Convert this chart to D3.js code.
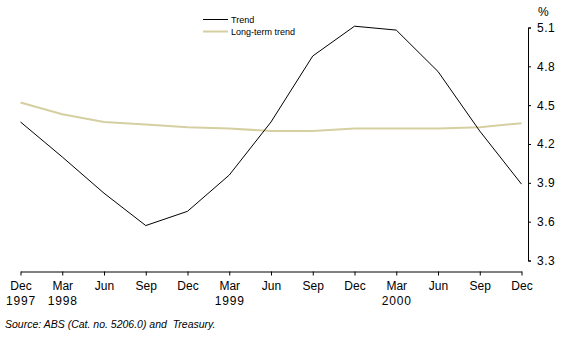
<!DOCTYPE html>
<html>
<head>
<meta charset="utf-8">
<script src="https://cdn.jsdelivr.net/npm/d3@7"></script>
<style>
  html, body { margin: 0; padding: 0; background: #fff; }
  svg { display: block; }
  text { font-family: "Liberation Sans", Arial, sans-serif; fill: #000; }
</style>
</head>
<body>
<svg id="chart" width="572" height="347"></svg>
<script>
const quarters = ["Dec","Mar","Jun","Sep","Dec","Mar","Jun","Sep","Dec","Mar","Jun","Sep","Dec"];
const years    = ["1997","1998","","","","1999","","","","2000","","",""];
const trend    = [4.37, 4.10, 3.82, 3.57, 3.68, 3.96, 4.37, 4.88, 5.11, 5.08, 4.76, 4.30, 3.89];
const longTerm = [4.52, 4.43, 4.37, 4.35, 4.33, 4.32, 4.30, 4.30, 4.32, 4.32, 4.32, 4.33, 4.36];
const yTicks   = [3.3, 3.6, 3.9, 4.2, 4.5, 4.8, 5.1];
const seriesNames = ["Trend", "Long-term trend"];

const svg = d3.select("#chart");
const idx = d3.range(quarters.length);

const x = d3.scalePoint().domain(idx).range([20.5, 521.5]);
const y = d3.scaleLinear().domain([3.3, 5.1]).range([260.5, 27.5]);

// X axis
const xAxis = d3.axisBottom(x)
  .tickSize(4).tickSizeOuter(0)
  .tickFormat(() => "");
const gx = svg.append("g").attr("transform", "translate(0,271.5)").call(xAxis);
gx.selectAll("path, line").attr("stroke", "#000").attr("stroke-width", 1);
gx.selectAll(".tick").each(function(d) {
  const t = d3.select(this).select("text");
  t.text(null).attr("y", 0).attr("dy", null)
    .style("font-size", "12px");
  t.append("tspan").attr("x", 0).attr("y", 18).text(quarters[d]);
  if (years[d]) t.append("tspan").attr("x", 0).attr("y", 33)
    .style("letter-spacing", "0.8px").text(years[d]);
});

// Y axis (right)
const yAxis = d3.axisRight(y)
  .tickValues(yTicks)
  .tickSize(3).tickSizeOuter(3)
  .tickPadding(6)
  .tickFormat(d3.format(".1f"));
const gy = svg.append("g").attr("transform", "translate(528,0)").call(yAxis);
gy.selectAll("path, line").attr("stroke", "#000").attr("stroke-width", 1);
gy.selectAll("text").style("font-size", "12px").style("letter-spacing", "0.5px");

svg.append("text").attr("x", 538).attr("y", 16).style("font-size", "12px").text("%");

// Lines
const line = d3.line().x((d, i) => x(i)).y(d => y(d));
svg.append("path").datum(longTerm)
  .attr("d", line).attr("fill", "none")
  .attr("stroke", "#d5cfa2").attr("stroke-width", 2);
svg.append("path").datum(trend)
  .attr("d", line).attr("fill", "none")
  .attr("stroke", "#000").attr("stroke-width", 1);

// Legend
const legend = svg.append("g");
const legendColors = ["#000", "#d5cfa2"];
const legendWidths = [1, 2];
seriesNames.forEach((name, i) => {
  const ly = 19 + i * 12;
  legend.append("line").attr("x1", 203).attr("x2", 228)
    .attr("y1", ly + 0.5).attr("y2", ly + 0.5)
    .attr("stroke", legendColors[i]).attr("stroke-width", legendWidths[i]);
  legend.append("text").attr("x", 231).attr("y", ly + 4)
    .style("font-size", "9px").text(name);
});

// Source
svg.append("text").attr("x", 5).attr("y", 328)
  .style("font-size", "10.5px").style("font-style", "italic")
  .style("white-space", "pre")
  .text("Source: ABS (Cat. no. 5206.0) and  Treasury.");
</script>
</body>
</html>
